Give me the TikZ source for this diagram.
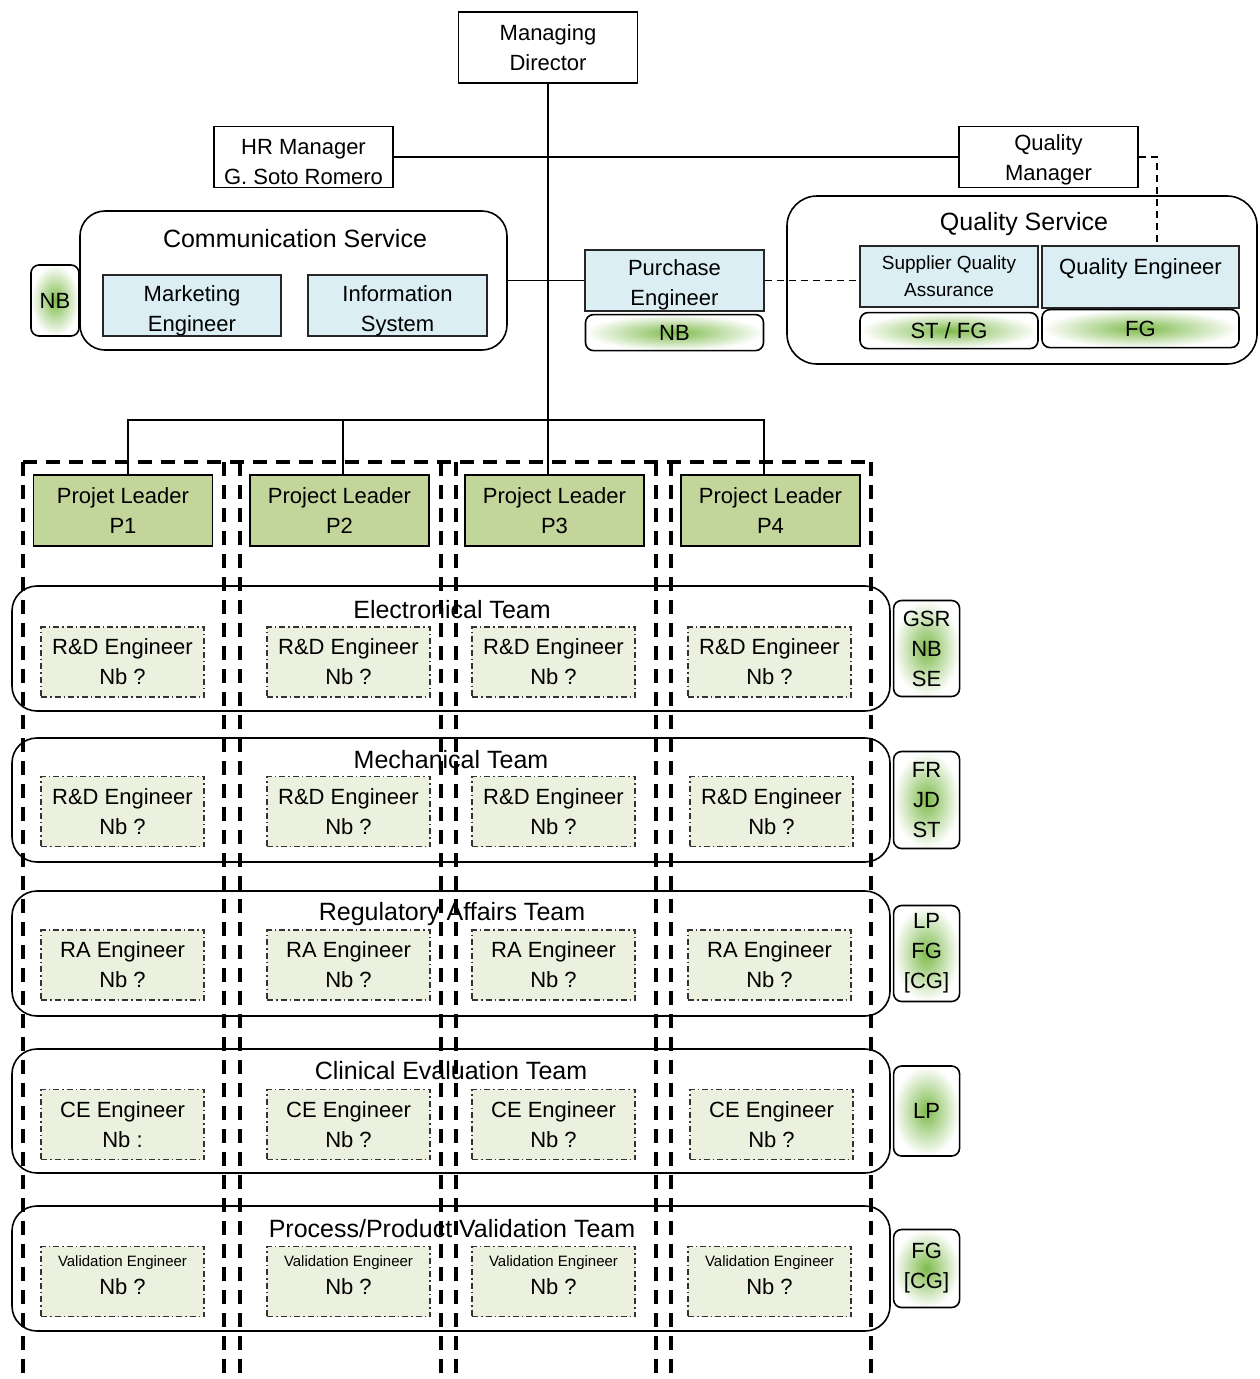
\documentclass[tikz,border=0pt]{standalone}
\usepackage{fontspec}
\setmainfont{Liberation Sans}
\usetikzlibrary{positioning}
\usetikzlibrary{calc}
\definecolor{paleblue}{RGB}{218,238,243}
\definecolor{leadgreen}{RGB}{194,214,155}
\definecolor{engfill}{RGB}{235,241,222}
\definecolor{tagglow}{RGB}{125,186,74}
% pushes the two lines of a short box a little down
\newcommand{\lowstrut}{\rule{0pt}{26pt}}
\tikzset{
  % A plain white box for the managers
  mgr/.style={
    draw=black, fill=white, line width=1.6pt, align=center,
    font=\fontsize{22}{30}\selectfont, inner sep=0pt,
    minimum width=179pt, minimum height=#1},
  % A blue box for one role in a service
  role/.style={
    draw=black!85, fill=paleblue, line width=1.6pt, align=center,
    font=\fontsize{22}{30}\selectfont, inner sep=0pt,
    minimum width=#1, minimum height=61pt},
  % A rounded frame round a service or a team
  service/.style={draw=black, line width=1.6pt, rounded corners=25pt, inner sep=0pt},
  teamtitle/.style={font=\fontsize{25}{30}\selectfont, inner sep=0pt},
  % Who is in charge: a small box that glows green
  tagbox/.style={
    draw=black, line width=1.6pt, rounded corners=8pt, shading=radial,
    inner color=tagglow, outer color=white, align=center,
    font=\fontsize{22}{30}\selectfont, inner sep=0pt,
    minimum width=66pt, minimum height=#1},
  % One project
  leader/.style={
    draw=black, fill=leadgreen, line width=1.6pt, align=center,
    font=\fontsize{22}{30}\selectfont, inner sep=0pt,
    minimum width=179pt, minimum height=71pt},
  % An engineer of a team working on one project
  eng/.style={
    draw=black!80, fill=engfill, line width=1.3pt,
    dash pattern=on 6pt off 3pt on 1.5pt off 3pt, align=center,
    font=\fontsize{22}{30}\selectfont, inner sep=0pt,
    minimum width=163pt, minimum height=70pt},
  % Relationships
  link/.style={draw=black, line width=1.6pt},
  dotlink/.style={link, dash pattern=on 7pt off 5pt},
  column/.style={draw=black, line width=3.5pt, dash pattern=on 14pt off 9pt},
}

\begin{document}
\begin{tikzpicture}[x=1pt, y=-1pt]
\useasboundingbox (0,0) rectangle (1259,1379);

% management
\node[mgr=71pt] (md) at (548,47.5) {Managing\\Director};
\node[mgr=61pt] (hr) at (303.5,157) {\lowstrut HR Manager\\G. Soto Romero};
\node[mgr=61pt] (qm) at (1048.5,157) {\rule{0pt}{22pt}Quality\\Manager};

% services
\node[service, minimum width=427pt, minimum height=139pt] (comm) at (293.5,280.5) {};
\node[teamtitle] (comm-t) at (295,239) {Communication Service};
\node[role=178pt] (mkt) at (192,305.5) {\lowstrut Marketing\\Engineer};
\node[role=179pt] (info) at (397.5,305.5) {\lowstrut Information\\System};
\node[tagbox=71pt, minimum width=48pt] (nbcomm) at (55,300.5) {NB};

\node[role=179pt] (purch) at (674.5,280.5) {\rule{0pt}{24pt}Purchase\\Engineer};
\node[tagbox=36pt, minimum width=178pt, below=2pt of purch] (nbpurch) {NB};

\node[service, rounded corners=30pt, minimum width=470pt, minimum height=168pt] (qs) at (1022,280) {};
\node[teamtitle] (qs-t) at (1024,224) {Quality Service};
\node[role=178pt, font=\fontsize{19}{27}\selectfont] (sqa) at (949,276.5) {Supplier Quality\\Assurance};
\node[role=197pt, minimum height=62pt] (qe) at (1140.5,277) {\rule{0pt}{24pt}Quality Engineer\\\mbox{}};
\node[tagbox=36pt, minimum width=178pt, below=4pt of sqa] (stfg) {ST / FG};
\node[tagbox=38pt, minimum width=197pt, below=0pt of qe] (fgq) {FG};

\draw[link] (md.south) -- (md.south |- 0,475);
\draw[link] (hr.east) -- (qm.west);
\draw[link] (comm.east) -- (purch.west);
\draw[dotlink] (purch.east) -- (purch.east -| sqa.west);
\draw[dotlink] (qm.east) -| ($(qe.north)+(16.5,0)$);

% teams
\node[service, minimum width=878pt, minimum height=125pt] (elec) at (451,648.5) {};
\node[service, minimum width=878pt, minimum height=124pt] (mech) at (451,800) {};
\node[service, minimum width=878pt, minimum height=125pt] (reg) at (451,953.5) {};
\node[service, minimum width=878pt, minimum height=124pt] (clin) at (451,1111) {};
\node[service, minimum width=878pt, minimum height=125pt] (val) at (451,1268.5) {};
\node[teamtitle] (elec-t) at (452,610) {Electronical Team};
\node[teamtitle] (mech-t) at (451,760) {Mechanical Team};
\node[teamtitle] (reg-t) at (452,914) {Regulatory Affairs Team};
\node[teamtitle] (clin-t) at (451,1071) {Clinical Evaluation Team};
\node[teamtitle] (val-t) at (452,1229) {Process/Product Validation Team};

% projects
\draw[column] (23,462) -- (871,462);
\draw[column] (23,462) -- (23,1379) (224,462) -- (224,1379)
              (240,462) -- (240,1379) (441,462) -- (441,1379)
              (456,462) -- (456,1379) (656,462) -- (656,1379)
              (671,462) -- (671,1379) (871,462) -- (871,1379);

\node[leader] (p1) at (123,510.5) {Projet Leader\\P1};
\node[leader] (p2) at (339.5,510.5) {Project Leader\\P2};
\node[leader] (p3) at (554.5,510.5) {Project Leader\\P3};
\node[leader] (p4) at (770.5,510.5) {Project Leader\\P4};

\coordinate (bus) at (548,420);
\draw[link] ($(p1.north)+(5,0)$) |- (bus) -| ($(p4.north)+(-6.5,0)$);
\draw[link] ($(p2.north)+(3.5,0)$) -- ($(p2.north |- bus)+(3.5,0)$);

% engineers
\node[eng] (elec1) at (122.5,662) {R\&D Engineer\\Nb ?};
\node[eng] (elec2) at (348.5,662) {R\&D Engineer\\Nb ?};
\node[eng] (elec3) at (553.5,662) {R\&D Engineer\\Nb ?};
\node[eng] (elec4) at (769.5,662) {R\&D Engineer\\Nb ?};

\node[eng] (mech1) at (122.5,811.5) {R\&D Engineer\\Nb ?};
\node[eng] (mech2) at (348.5,811.5) {R\&D Engineer\\Nb ?};
\node[eng] (mech3) at (553.5,811.5) {R\&D Engineer\\Nb ?};
\node[eng] (mech4) at (771.5,811.5) {R\&D Engineer\\Nb ?};

\node[eng] (reg1) at (122.5,965) {RA Engineer\\Nb ?};
\node[eng] (reg2) at (348.5,965) {RA Engineer\\Nb ?};
\node[eng] (reg3) at (553.5,965) {RA Engineer\\Nb ?};
\node[eng] (reg4) at (769.5,965) {RA Engineer\\Nb ?};

\node[eng] (clin1) at (122.5,1124.5) {CE Engineer\\Nb :};
\node[eng] (clin2) at (348.5,1124.5) {CE Engineer\\Nb ?};
\node[eng] (clin3) at (553.5,1124.5) {CE Engineer\\Nb ?};
\node[eng] (clin4) at (771.5,1124.5) {CE Engineer\\Nb ?};

\node[eng, text depth=12pt] (val1) at (122.5,1281.5) {{\fontsize{15}{18}\selectfont Validation Engineer}\\[-2pt]Nb ?};
\node[eng, text depth=12pt] (val2) at (348.5,1281.5) {{\fontsize{15}{18}\selectfont Validation Engineer}\\[-2pt]Nb ?};
\node[eng, text depth=12pt] (val3) at (553.5,1281.5) {{\fontsize{15}{18}\selectfont Validation Engineer}\\[-2pt]Nb ?};
\node[eng, text depth=12pt] (val4) at (769.5,1281.5) {{\fontsize{15}{18}\selectfont Validation Engineer}\\[-2pt]Nb ?};

% who is in charge of each team
\node[tagbox=96pt, right=2pt of elec] (elec-tag) {GSR\\NB\\SE};
\node[tagbox=97pt, right=2pt of mech] (mech-tag) {FR\\JD\\ST};
\node[tagbox=96pt, right=2pt of reg] (reg-tag) {LP\\FG\\{[CG]}};
\node[tagbox=90pt, right=2pt of clin] (clin-tag) {LP};
\node[tagbox=78pt, right=2pt of val] (val-tag) {FG\\{[CG]}};

\end{tikzpicture}
\end{document}
